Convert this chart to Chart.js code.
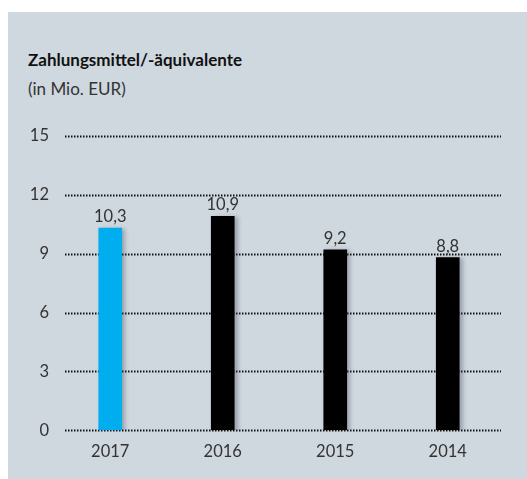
<!doctype html>
<html>

<head>
	<meta charset="utf-8">
	<title>Zahlungsmittel/-äquivalente</title>
	<script src="https://cdn.jsdelivr.net/npm/chart.js@4/dist/chart.umd.min.js"></script>
	<style>
	body {
		margin: 0;
		background: #fff;
		font-family: Lato, sans-serif;
	}
	.panel {
		position: absolute;
		left: 8px;
		top: 12px;
		width: 519px;
		height: 467px;
		background: #cfd7df;
	}
	.title {
		position: absolute;
		left: 20px;
		top: 37px;
		font-weight: bold;
		font-size: 17px;
		color: #111;
	}
	.subtitle {
		position: absolute;
		left: 20px;
		top: 66px;
		font-size: 17px;
		color: #333;
	}
	.chart-container {
		position: absolute;
		left: 0;
		top: 0;
		width: 527px;
		height: 479px;
	}
	</style>
</head>

<body>
	<div class="panel">
		<div class="title">Zahlungsmittel/-äquivalente</div>
		<div class="subtitle">(in Mio. EUR)</div>
	</div>
	<div class="chart-container"><canvas id="chart"></canvas></div>
	<script>
		var years = ['2017', '2016', '2015', '2014'];
		var values = [10.3, 10.9, 9.2, 8.8];
		var barColors = ['#00aeef', '#000000', '#000000', '#000000'];
		var yTicks = [0, 3, 6, 9, 12, 15];

		// dotted grid lines, a bit inset from the chart area
		var dottedGrid = {
			id: 'dottedGrid',
			beforeDatasetsDraw: function(chart) {
				var ctx = chart.ctx;
				var y = chart.scales.y;
				ctx.save();
				ctx.strokeStyle = '#111';
				ctx.lineWidth = 2;
				ctx.setLineDash([1.5, 1.5]);
				yTicks.forEach(function(v) {
					var py = Math.round(y.getPixelForValue(v)) + 0.5;
					ctx.beginPath();
					ctx.moveTo(chart.chartArea.left + 11, py);
					ctx.lineTo(chart.chartArea.right - 3, py);
					ctx.stroke();
				});
				ctx.restore();

				// soft shadow for the bars
				ctx.save();
				ctx.shadowColor = 'rgba(60, 70, 80, 0.35)';
				ctx.shadowBlur = 4;
				ctx.shadowOffsetX = 3;
				ctx.shadowOffsetY = 1;
			},
			afterDatasetsDraw: function(chart) {
				var ctx = chart.ctx;
				ctx.restore();
				ctx.save();
				ctx.fillStyle = '#333';
				ctx.font = '16.5px Lato';
				ctx.textAlign = 'center';
				ctx.textBaseline = 'alphabetic';
				chart.getDatasetMeta(0).data.forEach(function(bar, i) {
					ctx.fillText(values[i].toFixed(1).replace('.', ','), bar.x, bar.y - 6);
				});
				ctx.restore();
			}
		};

		window.onload = function() {
			var ctx = document.getElementById('chart').getContext('2d');
			new Chart(ctx, {
				type: 'bar',
				data: {
					labels: years,
					datasets: [{
						data: values,
						backgroundColor: barColors,
						barThickness: 23
					}]
				},
				plugins: [dottedGrid],
				options: {
					responsive: true,
					maintainAspectRatio: false,
					animation: false,
					layout: {
						padding: { top: 136, right: 23, bottom: 13, left: 0 }
					},
					plugins: {
						legend: { display: false },
						tooltip: { enabled: false }
					},
					scales: {
						x: {
							grid: { display: false },
							border: { display: false },
							ticks: {
								color: '#333',
								font: { family: 'Lato', size: 16.5 },
								padding: 4
							}
						},
						y: {
							min: 0,
							max: 15,
							grid: { display: false, drawTicks: false },
							border: { display: false },
							ticks: {
								stepSize: 3,
								color: '#333',
								font: { family: 'Lato', size: 16.5 },
								padding: 5
							},
							afterFit: function(scale) {
								scale.width = 54;
							}
						}
					}
				}
			});
		};
	</script>
</body>

</html>
